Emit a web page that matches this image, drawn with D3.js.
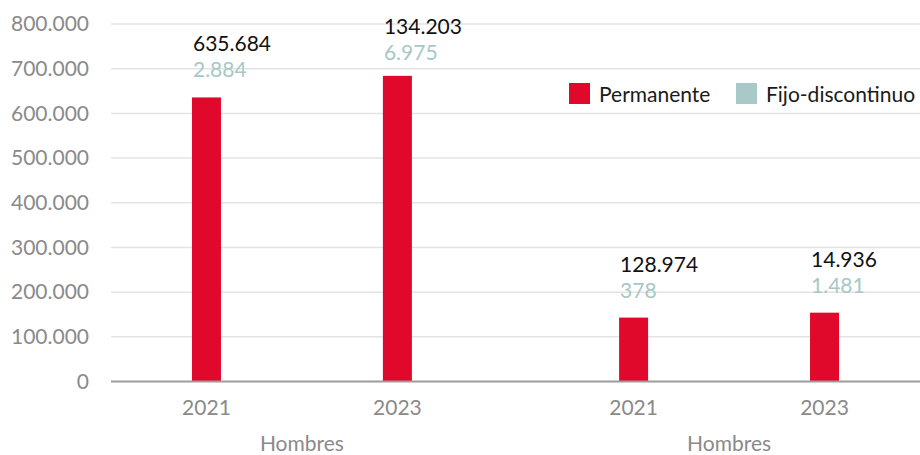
<!DOCTYPE html>
<html>
<head>
<meta charset="utf-8">
<script src="https://cdn.jsdelivr.net/npm/d3@7/dist/d3.min.js"></script>
<style>
  html, body { margin: 0; padding: 0; background: #fff; }
  svg { display: block; font-family: Lato, "Noto Sans", sans-serif; }
</style>
</head>
<body>
<svg id="chart" width="920" height="455"></svg>
<script>
// Data
const groups = ["Hombres", "Hombres"];
const years = ["2021", "2023"];
const seriesNames = ["Permanente", "Fijo-discontinuo"];
const permanente = [635684, 684000, 143000, 154000];
const fijoDiscontinuo = [2884, 6975, 378, 1481];
const permanenteLabels = ["635.684", "134.203", "128.974", "14.936"];
const fijoLabels = ["2.884", "6.975", "378", "1.481"];
const yTicks = [0, 100000, 200000, 300000, 400000, 500000, 600000, 700000, 800000];

const colors = { perm: "#E0092C", fijo: "#A9C9C8" };
const fontSize = "21px";

const svg = d3.select("#chart");
const W = 920;
const margin = { left: 111, right: 0, top: 24, bottom: 73.5 };
const plotBottom = 455 - margin.bottom;

const locale = d3.formatLocale({ decimal: ",", thousands: ".", grouping: [3], currency: ["", "€"] });
const fmt = locale.format(",d");

const y = d3.scaleLinear().domain([0, 800000]).range([plotBottom, margin.top]);

// Outer band per group, inner band per year
const groupKeys = groups.map((g, i) => i);
const x0 = d3.scaleBand().domain(groupKeys).range([margin.left, W]).paddingInner(0.106).paddingOuter(0);
const x1 = d3.scaleBand().domain(years).range([0, x0.bandwidth()]).padding(0);
const barW = 29;

const rows = [];
groups.forEach((g, gi) => {
  years.forEach((yr, yi) => {
    const i = gi * years.length + yi;
    rows.push({ gi, yr, perm: permanente[i], fijo: fijoDiscontinuo[i], pl: permanenteLabels[i], fl: fijoLabels[i] });
  });
});
const cx = d => x0(d.gi) + x1(d.yr) + x1.bandwidth() / 2;

// Gridlines
svg.append("g")
  .selectAll("line")
  .data(yTicks.filter(t => t > 0))
  .join("line")
  .attr("x1", margin.left).attr("x2", W)
  .attr("y1", d => y(d)).attr("y2", d => y(d))
  .attr("stroke", "#e3e3e3").attr("stroke-width", 1.5);

// Y axis labels
const yAxis = d3.axisLeft(y).tickValues(yTicks).tickFormat(fmt).tickSize(0).tickPadding(22);
const gy = svg.append("g").attr("transform", `translate(${margin.left},0)`).call(yAxis);
gy.select(".domain").remove();
gy.selectAll("text").attr("fill", "#8a8a8a").style("font-size", fontSize).style("font-family", "Lato");

// Bars: fijo-discontinuo sits behind permanente (full overlap)
svg.append("g").selectAll("rect")
  .data(rows).join("rect")
  .attr("x", d => cx(d) - barW / 2)
  .attr("width", barW)
  .attr("y", d => y(d.fijo))
  .attr("height", d => y(0) - y(d.fijo))
  .attr("fill", colors.fijo);

svg.append("g").selectAll("rect")
  .data(rows).join("rect")
  .attr("x", d => cx(d) - barW / 2)
  .attr("width", barW)
  .attr("y", d => y(d.perm))
  .attr("height", d => y(0) - y(d.perm))
  .attr("fill", colors.perm);

// Baseline
svg.append("line")
  .attr("x1", margin.left).attr("x2", W)
  .attr("y1", y(0)).attr("y2", y(0))
  .attr("stroke", "#9c9c9c").attr("stroke-width", 2.2);

// Value labels above each bar
const labels = svg.append("g").style("font-size", fontSize);
rows.forEach(d => {
  const top = y(d.perm);
  const base = Math.max(top - 46, 34);
  labels.append("text")
    .attr("x", cx(d) - barW / 2 + 1)
    .attr("y", base)
    .attr("fill", "#111")
    .text(d.pl);
  labels.append("text")
    .attr("x", cx(d) - barW / 2 + 1)
    .attr("y", Math.max(top - 20, base + 26))
    .attr("fill", "#a6c8c6")
    .text(d.fl);
});

// X axis: years then group names
const gx = svg.append("g").style("font-size", fontSize).attr("fill", "#8a8a8a");
rows.forEach(d => {
  gx.append("text").attr("x", cx(d)).attr("y", 415).attr("text-anchor", "middle").text(d.yr);
});
groups.forEach((g, gi) => {
  gx.append("text")
    .attr("x", x0(gi) + x0.bandwidth() / 2)
    .attr("y", 451)
    .attr("text-anchor", "middle")
    .text(g);
});

// Legend
const legend = svg.append("g").attr("transform", "translate(569,83)").style("font-size", fontSize);
const legendItems = [
  { name: seriesNames[0], color: colors.perm, x: 0 },
  { name: seriesNames[1], color: colors.fijo, x: 167 }
];
legendItems.forEach(it => {
  legend.append("rect").attr("x", it.x).attr("y", 0).attr("width", 21).attr("height", 21).attr("fill", it.color);
  legend.append("text").attr("x", it.x + 30).attr("y", 18.5).attr("fill", "#1a1a1a").text(it.name);
});
</script>
</body>
</html>
